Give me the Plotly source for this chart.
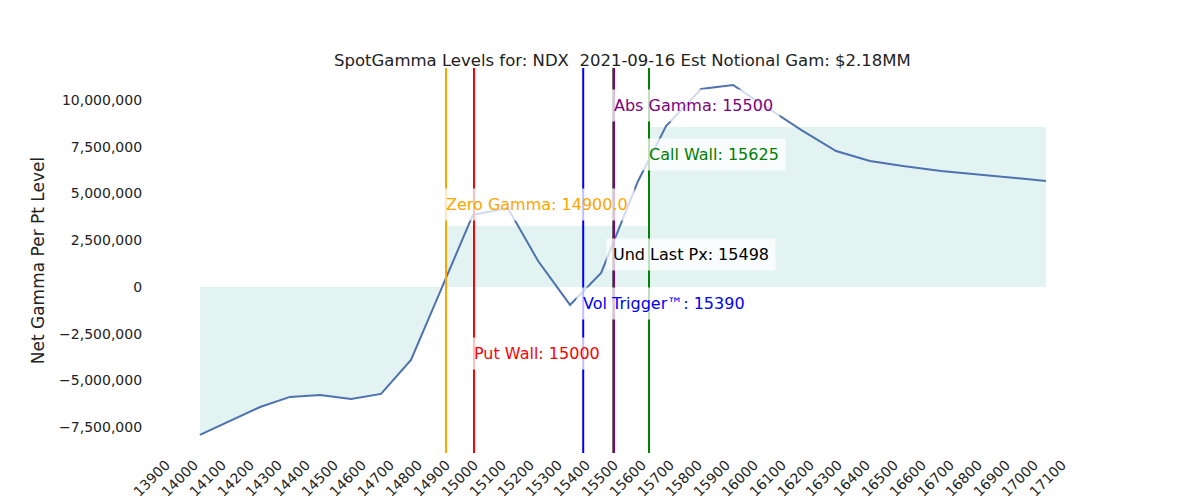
import plotly.graph_objects as go

# net gamma curve
strikes = [14021, 14129, 14236, 14343, 14450, 14561, 14668, 14775, 14996, 15121,
           15229, 15343, 15454, 15586, 15686, 15811, 15925, 16168, 16293, 16414,
           16532, 16668, 16825, 17043]
gamma = [-7.91e6, -7.17e6, -6.42e6, -5.88e6, -5.78e6, -5.99e6, -5.72e6, -3.90e6, 3.85e6, 4.22e6,
         1.39e6, -0.96e6, 0.75e6, 5.67e6, 8.61e6, 10.59e6, 10.80e6, 8.40e6, 7.27e6, 6.74e6,
         6.47e6, 6.20e6, 5.99e6, 5.67e6]

# shaded areas
neg_x = [14021, 14129, 14236, 14343, 14450, 14561, 14668, 14775, 14880, 15300]
neg_y = [-7.91e6, -7.17e6, -6.42e6, -5.88e6, -5.78e6, -5.99e6, -5.72e6, -3.90e6, 0, 0]
pos_x = [14900, 15625, 17043]
pos_y = [3.26e6, 8.55e6, 8.55e6]

levels = [
    ("Zero Gamma: 14900.0", 14900, "orange", 4.39e6),
    ("Put Wall: 15000", 15000, "red", -3.58e6),
    ("Vol Trigger™: 15390", 15390, "blue", -0.91e6),
    ("Und Last Px: 15498", 15498, "black", 1.71e6),
    ("Abs Gamma: 15500", 15500, "purple", 9.73e6),
    ("Call Wall: 15625", 15625, "green", 7.06e6),
]

fill = "rgba(0,150,136,0.11)"

fig = go.Figure()
fig.add_trace(go.Scatter(x=neg_x, y=neg_y, fill="tozeroy", fillcolor=fill,
                         line=dict(width=0), mode="lines", hoverinfo="skip"))
fig.add_trace(go.Scatter(x=pos_x, y=pos_y, fill="tozeroy", fillcolor=fill, line_shape="hv",
                         line=dict(width=0), mode="lines", hoverinfo="skip"))
fig.add_trace(go.Scatter(x=strikes, y=gamma, mode="lines",
                         line=dict(color="#4c72b0", width=2)))

for txt, x, col, ypos in levels:
    fig.add_vline(x=x, line=dict(color=col, width=2))
    fig.add_annotation(x=x, y=ypos, text=txt, showarrow=False, xanchor="left",
                       font=dict(color=col, size=16), bgcolor="rgba(255,255,255,0.75)",
                       borderpad=6, xshift=-7)

fig.update_layout(
    width=1200, height=500,
    title=dict(text="SpotGamma Levels for: NDX  2021-09-16 Est Notional Gam: $2.18MM",
               x=0.512, y=0.908, xanchor="center", font=dict(size=16.5, color="#222")),
    font=dict(family="DejaVu Sans", size=14, color="#222"),
    plot_bgcolor="white", paper_bgcolor="white",
    showlegend=False,
    margin=dict(l=144, r=132, t=60, b=55),
    xaxis=dict(range=[13850, 17150], dtick=100, tick0=13900, tickangle=-45, tickformat="d",
               showgrid=False, zeroline=False, showline=False, automargin=False),
    yaxis=dict(range=[-8.88e6, 11.71e6], dtick=2.5e6, tickformat=",d",
               title=dict(text="Net Gamma Per Pt Level", standoff=10), showgrid=False,
               zeroline=False, ticksuffix="  ", automargin=False),
)

fig.write_html("out.html")
